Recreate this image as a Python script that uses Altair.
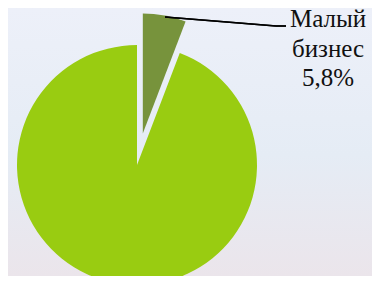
import math
import altair as alt
import pandas as pd

# ---- data ----
categories = ["Малый бизнес", "Прочие"]
shares = [5.8, 94.2]
order = [0, 1]
slice_colors = ["#77933c", "#99cc11"]
label_lines = ["Малый", "бизнес", "5,8%"]
label_index = [0, 1, 2]

W, H = 364, 268
CX, CY, R = 129, 157, 120
EXPLODE = 32

df = pd.DataFrame({"cat": categories, "share": shares, "order": order})
lab = pd.DataFrame({"line": label_lines, "idx": label_index})

mid = (shares[0] / 2) / 100 * 2 * math.pi
ex_x = CX + EXPLODE * math.sin(mid)
ex_y = CY - EXPLODE * math.cos(mid)

base = alt.Chart(df).transform_window(
    end="sum(share)", sort=[alt.SortField("order")], frame=[None, 0]
).transform_calculate(start="datum.end - datum.share")

theta_scale = alt.Scale(domain=[0, 100], range=[0, 2 * math.pi])
color_enc = alt.Color("cat:N", scale=alt.Scale(domain=categories, range=slice_colors), legend=None)

big = base.transform_filter(alt.datum.cat == categories[1]).mark_arc(radius=R).encode(
    theta=alt.Theta("start:Q", scale=theta_scale, stack=None),
    theta2="end:Q",
    color=color_enc,
    x=alt.value(CX),
    y=alt.value(CY),
)

small = base.transform_filter(alt.datum.cat == categories[0]).mark_arc(radius=R).encode(
    theta=alt.Theta("start:Q", scale=theta_scale, stack=None),
    theta2="end:Q",
    color=color_enc,
    x=alt.value(ex_x),
    y=alt.value(ex_y),
)

bg = alt.Chart(df).mark_rect(
    color=alt.LinearGradient(
        gradient="linear",
        x1=0, x2=0, y1=0, y2=1,
        stops=[
            alt.GradientStop(color="#edf0f9", offset=0),
            alt.GradientStop(color="#e5ecf5", offset=0.55),
            alt.GradientStop(color="#ebe5eb", offset=1),
        ],
    )
).encode(x=alt.value(0), x2=alt.value(W), y=alt.value(0), y2=alt.value(H))

lead1 = alt.Chart(df).mark_rule(color="black", strokeWidth=1.5).encode(
    x=alt.value(157), y=alt.value(9), x2=alt.value(268), y2=alt.value(18)
)
lead2 = alt.Chart(df).mark_rule(color="black", strokeWidth=1.5).encode(
    x=alt.value(268), y=alt.value(18), x2=alt.value(278), y2=alt.value(18)
)

label = alt.Chart(lab).mark_text(
    font="Liberation Serif", fontSize=25, align="center", baseline="alphabetic", color="#111111"
).encode(
    x=alt.value(320),
    y=alt.Y("idx:Q", scale=alt.Scale(domain=[0, 2], range=[19, 78]), axis=None),
    text="line:N",
)

chart = alt.layer(bg, big, small, lead1, lead2, label).properties(
    width=W, height=H, autosize=alt.AutoSizeParams(type="none"), padding=0, background="#edf0f8"
).configure_view(stroke=None)

chart.save("out.html", embed_options={"renderer": "svg", "actions": False})
